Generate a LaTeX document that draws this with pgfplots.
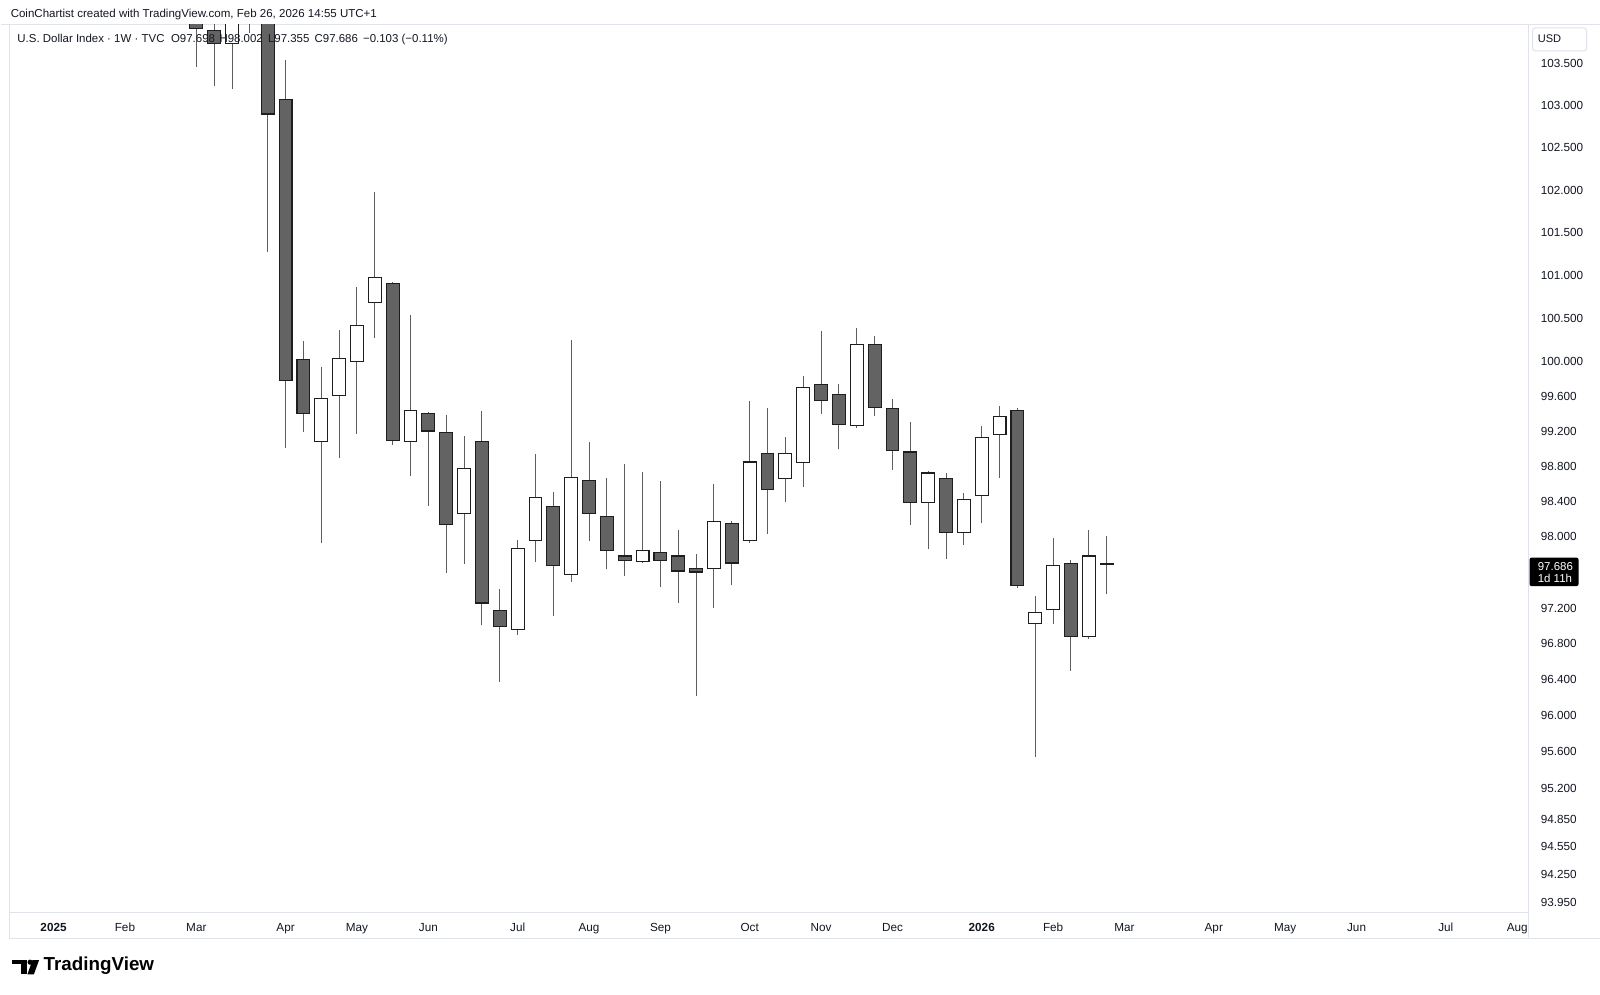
\documentclass[border=0pt]{standalone}
\usepackage{fontspec}
\setmainfont{Liberation Sans}
\usepackage{pgfplots}
\usepackage{pgfplotstable}
\pgfplotsset{compat=1.18}
\definecolor{tvtext}{HTML}{131722}
\definecolor{tvline}{HTML}{E0E3EB}
\definecolor{dkfill}{HTML}{636363}
\definecolor{wickc}{HTML}{5E5E5E}
\definecolor{edgec}{HTML}{1E1E1E}

% weekly candles: i = week index (0 = week of 6 Jan 2025)
\pgfplotstableread{
i o h l c
8 107.60 107.60 103.46 103.92
9 103.90 104.25 103.23 103.74
10 103.74 104.30 103.20 104.10
11 104.15 104.60 103.87 104.05
12 104.05 104.40 101.27 102.90
13 103.07 103.54 99.01 99.78
14 100.02 100.24 99.19 99.40
15 99.08 99.94 97.92 99.58
16 99.61 100.37 98.89 100.03
17 100.00 100.86 99.17 100.42
18 100.69 101.98 100.27 100.97
19 100.90 100.92 99.04 99.10
20 99.08 100.54 98.69 99.44
21 99.40 99.42 98.35 99.20
22 99.18 99.38 97.59 98.14
23 98.26 99.15 97.69 98.77
24 99.08 99.43 97.00 97.25
25 97.17 97.41 96.37 96.98
26 96.95 97.96 96.89 97.86
27 97.96 98.94 97.71 98.44
28 98.34 98.50 97.11 97.67
29 97.57 100.25 97.49 98.67
30 98.64 99.07 97.95 98.26
31 98.23 98.67 97.63 97.84
32 97.78 98.83 97.55 97.73
33 97.72 98.73 97.70 97.84
34 97.82 98.63 97.43 97.73
35 97.78 98.08 97.25 97.61
36 97.64 97.80 96.21 97.60
37 97.64 98.60 97.19 98.17
38 98.15 98.17 97.45 97.70
39 97.95 99.55 97.93 98.85
40 98.94 99.47 98.03 98.53
41 98.66 99.13 98.39 98.94
42 98.84 99.84 98.56 99.70
43 99.74 100.35 99.40 99.55
44 99.62 99.74 98.99 99.27
45 99.26 100.39 99.24 100.20
46 100.19 100.29 99.37 99.47
47 99.46 99.57 98.76 98.98
48 98.96 99.31 98.13 98.39
49 98.39 98.74 97.86 98.72
50 98.66 98.72 97.75 98.05
51 98.05 98.49 97.91 98.42
52 98.47 99.26 98.15 99.13
53 99.16 99.49 98.67 99.37
54 99.43 99.46 97.42 97.45
55 97.02 97.33 95.54 97.14
56 97.18 97.98 97.01 97.67
57 97.69 97.74 96.49 96.88
58 96.87 98.07 96.85 97.78
59 97.698 98.002 97.355 97.686
}\dxy
\pgfplotstablegetrowsof{\dxy}
\pgfmathtruncatemacro\lastrow{\pgfplotsretval-1}

\begin{document}
\begin{tikzpicture}
\begin{scope}[x=0.75pt,y=0.75pt]
\fill[white] (0,0) rectangle (1600,995);
\draw[tvline, line width=0.75pt] (0,970) -- (1600,970);
\draw[tvline, line width=0.75pt] (9,56) -- (1600,56);
\draw[tvline, line width=0.75pt] (9,81.5) -- (1528.5,81.5);
\draw[tvline, line width=0.75pt] (1528.5,970) -- (1528.5,56);
\draw[tvline, line width=0.75pt] (9,970) -- (9,56);
\end{scope}

\begin{axis}[
  at={(6.75pt,61.5pt)}, anchor=south west,
  scale only axis, width=1139.25pt, height=666pt,
  y coord trafo/.code={\pgfmathparse{ln(#1)}},
  y coord inv trafo/.code={\pgfmathparse{exp(#1)}},
  xmin=-2.467, xmax=82.58,
  ymin=93.8425, ymax=103.9705,
  axis line style={draw=none},
  tick style={draw=none},
  major tick length=0pt, minor tick length=0pt,
  yticklabel pos=right,
  ytick={93.95,94.25,94.55,94.85,95.2,95.6,96,96.4,96.8,97.2,98,98.4,98.8,99.2,99.6,100,100.5,101,101.5,102,102.5,103,103.5},
  yticklabels={93.950,94.250,94.550,94.850,95.200,95.600,96.000,96.400,96.800,97.200,98.000,98.400,98.800,99.200,99.600,100.000,100.500,101.000,101.500,102.000,102.500,103.000,103.500},
  yticklabel style={anchor=west, xshift=9.75pt, inner sep=0pt, font=\fontsize{8.8}{10}\selectfont, text=tvtext},
  xtick={0,4,8,13,17,21,26,30,34,39,43,47,52,56,60,65,69,73,78,82},
  xticklabels={\textbf{2025},Feb,Mar,Apr,May,Jun,Jul,Aug,Sep,Oct,Nov,Dec,\textbf{2026},Feb,Mar,Apr,May,Jun,Jul,Aug},
  xticklabel style={anchor=base, yshift=-14.5pt, inner sep=0pt, font=\fontsize{8.8}{10}\selectfont, text=tvtext},
  wick/.style={draw=wickc, line width=0.75pt},
  downbody/.style={draw=edgec, fill=dkfill, line width=0.8pt},
  upbody/.style={draw=edgec, fill=white, line width=0.8pt},
]
\pgfplotsforeachungrouped \r in {0,...,\lastrow}{%
  \pgfplotstablegetelem{\r}{i}\of\dxy \let\ci\pgfplotsretval
  \pgfplotstablegetelem{\r}{o}\of\dxy \let\co\pgfplotsretval
  \pgfplotstablegetelem{\r}{h}\of\dxy \let\ch\pgfplotsretval
  \pgfplotstablegetelem{\r}{l}\of\dxy \let\cl\pgfplotsretval
  \pgfplotstablegetelem{\r}{c}\of\dxy \let\cc\pgfplotsretval
  \pgfmathsetmacro\xa{\ci-0.36}%
  \pgfmathsetmacro\xb{\ci+0.36}%
  \pgfmathparse{\cc<\co ? 1 : 0}%
  \ifdim\pgfmathresult pt>0.5pt \def\bst{downbody}\else\def\bst{upbody}\fi
  \edef\temp{\noexpand\addplot[wick] coordinates {(\ci,\cl) (\ci,\ch)};
    \noexpand\addplot[\bst] coordinates {(\xa,\co) (\xb,\co) (\xb,\cc) (\xa,\cc)} -- cycle;}%
  \temp
}
\end{axis}

\begin{scope}[x=0.75pt,y=0.75pt]
% header
\node[anchor=west, inner sep=0pt, text=tvtext, font=\fontsize{8.65}{10}\selectfont] at (10,980) {CoinChartist created with TradingView.com, Feb 26, 2026 14:55 UTC+1};
\node[anchor=west, inner sep=0pt, text=tvtext, font=\fontsize{8.6}{10}\selectfont] at (16.7,955.7) {U.S. Dollar Index · 1W · TVC\hspace{2.5pt} O97.698\hspace{1pt} H98.002\hspace{1.5pt} L97.355\hspace{1.5pt} C97.686\hspace{1.5pt} −0.103 (−0.11\%)};
% USD box
\draw[tvline, rounded corners=2pt, line width=0.75pt] (1533,967) rectangle (1587,944);
\node[anchor=west, inner sep=0pt, text=tvtext, font=\fontsize{8.3}{10}\selectfont] at (1538,956.5) {USD};
% last price label
\fill[black, rounded corners=1.5pt] (1530,437) rectangle (1579,408.5);
\node[anchor=west, inner sep=0pt, text=white, font=\fontsize{8.6}{10}\selectfont] at (1538,428.5) {97.686};
\node[anchor=west, inner sep=0pt, text=white, font=\fontsize{8.6}{10}\selectfont] at (1538,416.5) {1d 11h};
% TradingView logo
\fill[black] (11.7,34.3) rectangle (26.7,30);
\fill[black] (20.7,34.3) rectangle (26.7,20);
\fill[black] (29.6,32.2) circle (2.6);
\fill[black] (32,34.3) -- (38.6,34.3) -- (33.4,20) -- (26.9,20) -- cycle;
\node[anchor=west, inner sep=0pt, font=\fontsize{14.1}{16}\selectfont\bfseries] at (43,28.3) {TradingView};
\end{scope}
\end{tikzpicture}
\end{document}
